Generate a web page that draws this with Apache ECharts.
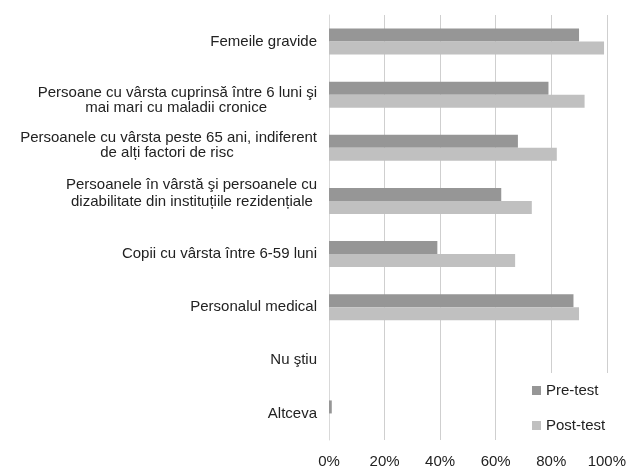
<!DOCTYPE html>
<html>
<head>
<meta charset="utf-8">
<title>Pre-test / Post-test</title>
<script src="https://cdn.jsdelivr.net/npm/echarts@6/dist/echarts.min.js"></script>
<style>
	html,body{margin:0;padding:0;background:#fff;}
	#chart{width:629px;height:470px;}
</style>
</head>
<body>
<div id="chart"></div>
<script>
var categorii=['Femeile gravide',
	'Persoane cu vârsta cuprinsă între 6 luni şi\nmai mari cu maladii cronice',
	'Persoanele cu vârsta peste 65 ani, indiferent\nde alți factori de risc',
	'Persoanele în vârstă şi persoanele cu\ndizabilitate din instituțiile rezidențiale',
	'Copii cu vârsta între 6-59 luni',
	'Personalul medical',
	'Nu ştiu',
	'Altceva'];
var preTest=[90, 79, 68, 62, 39, 88, 0, 1];
var postTest=[99, 92, 82, 73, 67, 90, 0, 0];
var tickuri=[0, 20, 40, 60, 80, 100];

// inaltimea fiecarui rand din etichetele pe doua randuri (muta textul ca in original)
var inaltimiRand=[null, [26,3], [10,20], [2,32], null, null, null, null];

var font="'Liberation Sans', Arial, sans-serif";
var culoareText='#222';

var ctxMasura=document.createElement('canvas').getContext('2d');
ctxMasura.font="15px 'Liberation Sans', Arial, sans-serif";
function latimeText(t){
	return ctxMasura.measureText(t).width;
}

// randurile sunt centrate intre ele: randul scurt primeste spatii la sfarsit
function centreaza(r1,r2){
	var w1=latimeText(r1), w2=latimeText(r2);
	var sp=latimeText('\u00a0');
	var n1=Math.max(0,Math.round((w2-w1)/2/sp));
	var n2=Math.max(0,Math.round((w1-w2)/2/sp));
	return [r1+new Array(n1+1).join('\u00a0'), r2+new Array(n2+1).join('\u00a0')];
}

function stilRand(h){
	return {
		fontSize:15,
		fontFamily:font,
		color:culoareText,
		lineHeight:h
	};
}

function init(){
	var rich={s:stilRand(15)};
	for(var i=0;i<inaltimiRand.length;i++){
		if(inaltimiRand[i]){
			rich['r'+i+'a']=stilRand(inaltimiRand[i][0]);
			rich['r'+i+'b']=stilRand(inaltimiRand[i][1]);
		}
	}
	var option = {
		animation:false,
		color:['#969696','#c0c0c0'],
		textStyle:{fontFamily:font},
		legend:{
			orient:'vertical',
			left:527,
			top:373,
			padding:[10,8,10,5],
			backgroundColor:'#fff',
			itemWidth:9,
			itemHeight:9,
			itemGap:20,
			icon:'rect',
			textStyle:{
				color:culoareText,
				fontSize:15,
				fontFamily:font
			},
			data:['Pre-test','Post-test']
		},
		grid:{
			left:329,
			right:19,
			top:15,
			bottom:30
		},
		xAxis:{
			type:'value',
			min:tickuri[0],
			max:tickuri[tickuri.length-1],
			interval:tickuri[1]-tickuri[0],
			axisLine:{show:false},
			axisTick:{show:false},
			axisLabel:{
				formatter:'{value}%',
				color:culoareText,
				fontSize:15,
				fontFamily:font,
				margin:14
			},
			splitLine:{
				lineStyle:{
					color:'#cfcfcf',
					width:1
				}
			}
		},
		yAxis:{
			type:'category',
			inverse:true,
			data:categorii,
			axisLine:{
				lineStyle:{
					color:'#d9d9d9'
				}
			},
			axisTick:{show:false},
			axisLabel:{
				color:culoareText,
				fontSize:15,
				fontFamily:font,
				margin:12,
				align:'right',
				formatter:function(val,idx){
					var randuri=val.split('\n');
					if(randuri.length<2 || !inaltimiRand[idx]){
						return '{s|'+val+'}';
					}
					var c=centreaza(randuri[0],randuri[1]);
					return '{r'+idx+'a|'+c[0]+'}\n{r'+idx+'b|'+c[1]+'}';
				},
				rich:rich
			}
		},
		series:[
			{
				name:'Pre-test',
				type:'bar',
				barWidth:13,
				barGap:'0%',
				data:preTest
			},
			{
				name:'Post-test',
				type:'bar',
				barWidth:13,
				barGap:'0%',
				data:postTest
			}
		]
	};
	var myChart = echarts.init(document.getElementById("chart"));
	myChart.setOption(option);
}
init();
</script>
</body>
</html>
